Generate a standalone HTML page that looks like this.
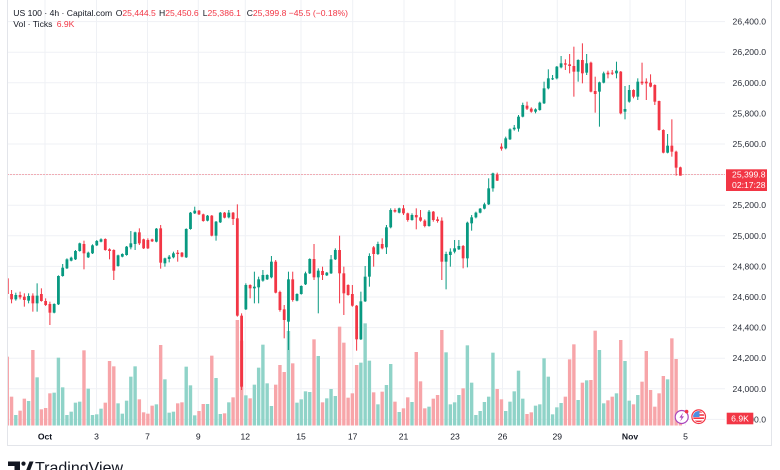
<!DOCTYPE html>
<html><head><meta charset="utf-8">
<style>
html,body{margin:0;padding:0;background:#fff;width:780px;height:470px;overflow:hidden}
svg{display:block;font-family:"Liberation Sans",Arial,sans-serif}
</style></head><body>
<svg id="s" width="780" height="470" viewBox="0 0 780 470" xmlns="http://www.w3.org/2000/svg">
<defs>
<clipPath id="cp"><rect x="7.5" y="0" width="717.5" height="425.5"/></clipPath>
<clipPath id="fc"><circle cx="698.7" cy="416.7" r="5.6"/></clipPath>
</defs>
<rect width="780" height="470" fill="#fff"/>
<g id="grid"></g>
<g clip-path="url(#cp)">
  <g id="vol"></g>
  <line x1="7.5" y1="174.5" x2="725" y2="174.5" stroke="#F23645" stroke-width="1" stroke-dasharray="1 2" opacity="0.75"/>
  <g id="cdl"></g>
</g>
<!-- frame -->
<line x1="7.5" y1="0" x2="7.5" y2="445.5" stroke="#e3e5ea" stroke-width="1"/>
<line x1="7" y1="445.5" x2="772" y2="445.5" stroke="#e3e5ea" stroke-width="1"/>
<line x1="771.5" y1="0" x2="771.5" y2="445.5" stroke="#e3e5ea" stroke-width="1"/>

<!-- legend -->
<text x="13.3" y="16.2" font-size="8.6" fill="#131722">US 100 · 4h · Capital.com</text>
<text y="16.2" font-size="8.6"><tspan x="115.7" fill="#131722">O</tspan><tspan fill="#F23645">25,444.5</tspan></text>
<text y="16.2" font-size="8.6"><tspan x="159" fill="#131722">H</tspan><tspan fill="#F23645">25,450.6</tspan></text>
<text y="16.2" font-size="8.6"><tspan x="202.7" fill="#131722">L</tspan><tspan fill="#F23645">25,386.1</tspan></text>
<text y="16.2" font-size="8.6"><tspan x="246.7" fill="#131722">C</tspan><tspan fill="#F23645">25,399.8 −45.5 (−0.18%)</tspan></text>
<text x="13.3" y="27" font-size="8.6" fill="#131722">Vol · Ticks</text>
<text x="56.7" y="27" font-size="8.6" fill="#F23645">6.9K</text>

<!-- price axis -->
<g font-size="8.6" fill="#2a2e39" text-anchor="end">
<text x="766" y="24.6">26,400.0</text>
<text x="766" y="55.2">26,200.0</text>
<text x="766" y="85.8">26,000.0</text>
<text x="766" y="116.4">25,800.0</text>
<text x="766" y="147">25,600.0</text>
<text x="766" y="208.2">25,200.0</text>
<text x="766" y="238.8">25,000.0</text>
<text x="766" y="269.4">24,800.0</text>
<text x="766" y="300">24,600.0</text>
<text x="766" y="330.6">24,400.0</text>
<text x="766" y="361.2">24,200.0</text>
<text x="766" y="391.8">24,000.0</text>
<text x="766" y="422.4">23,800.0</text>
</g>
<rect x="726" y="169.3" width="41" height="21.7" fill="#F23645"/>
<text x="765.5" y="177.3" font-size="8.6" fill="#fff" text-anchor="end">25,399.8</text>
<text x="765.5" y="187.8" font-size="8.6" fill="#fff" text-anchor="end">02:17:28</text>
<rect x="726.7" y="412.7" width="26.6" height="11.6" fill="#F23645"/>
<text x="740" y="421.6" font-size="8.6" fill="#fff" text-anchor="middle">6.9K</text>

<!-- time axis -->
<g font-size="8.6" fill="#131722" text-anchor="middle">
<text x="45" y="439.6" font-weight="bold">Oct</text>
<text x="96.5" y="439.6">3</text>
<text x="147.5" y="439.6">7</text>
<text x="198.3" y="439.6">9</text>
<text x="245.3" y="439.6">12</text>
<text x="301" y="439.6">15</text>
<text x="352.7" y="439.6">17</text>
<text x="403.5" y="439.6">21</text>
<text x="455" y="439.6">23</text>
<text x="502.5" y="439.6">26</text>
<text x="557.3" y="439.6">29</text>
<text x="630" y="439.6" font-weight="bold">Nov</text>
<text x="685.5" y="439.6">5</text>
</g>

<!-- icons -->
<circle cx="681.7" cy="417" r="6.5" fill="#fff" stroke="#ab47bc" stroke-width="1.2"/>
<path d="M683.2,412.6 L679.4,417.6 L681.6,417.6 L680.2,421.4 L684,416.4 L681.8,416.4 Z" fill="#ab47bc"/>
<circle cx="686.6" cy="411.6" r="1.8" fill="#F23645"/>
<circle cx="698.7" cy="416.7" r="6.8" fill="#fff" stroke="#F23645" stroke-width="1.2"/>
<g clip-path="url(#fc)">
  <rect x="692" y="410" width="14" height="14" fill="#fff"/>
  <rect x="692" y="411" width="14" height="1.6" fill="#F23645"/>
  <rect x="692" y="414.2" width="14" height="1.6" fill="#F23645"/>
  <rect x="692" y="417.4" width="14" height="1.6" fill="#F23645"/>
  <rect x="692" y="420.6" width="14" height="1.6" fill="#F23645"/>
  <rect x="692" y="410" width="7.5" height="7" fill="#4a90e2"/>
</g>

<!-- TradingView logo -->
<path d="M8,461.5 H20 V472 H14.5 V466 H8 Z" fill="#131722"/>
<circle cx="23.5" cy="463.6" r="2.1" fill="#131722"/>
<path d="M25.5,472 L29.5,461.5 L33.5,461.5 L29.5,472 Z" fill="#131722"/>
<text x="35" y="473.2" font-size="16" fill="#131722">TradingView</text>
</svg>
<script>
(function(){
var X0=7.3, ST=4.26;
var G='#089981', R='#F23645', GV='#8fd3c8', RV='#f7a5a9';
function cx(i){return X0+ST*i;}
// grid
var gh='';
for(var k=0;k<14;k++){var y=21.6+30.6*k;gh+='<line x1="7.5" y1="'+y.toFixed(2)+'" x2="725" y2="'+y.toFixed(2)+'" stroke="#eff1f5" stroke-width="1"/>';}
[45,96.5,147.5,198.3,245.3,301,352.7,404,455,502.5,557.3,630,685.5].forEach(function(x){gh+='<line x1="'+x+'" y1="0" x2="'+x+'" y2="425.5" stroke="#eff1f5" stroke-width="1"/>';});
document.getElementById('grid').innerHTML=gh;

var segs=[
[0,170,"r325,372,320,375 r372,388,360,400 g375,388,368,392 r375,382,365,388 r380,390,370,410 g378,392,370,400 r377,400,370,425 g377,400,340,425 r372,393,355,395 r393,405,385,408 r402,428,395,465 g402,428,400,430 g318,403,316,405 g293,318,282,320 g268,295,265,297 g263,272,260,274 g243,268,240,270 g220,243,218,245 r222,250,212,298 g248,262,245,264 g226,250,223,252 g213,226,210,228 g208,215,205,217 r207,240,205,242 r238,243,235,268 r240,302,238,330 g256,288,254,290 g252,260,250,262 g230,255,228,257 g220,232,183,238 g187,222,185,240 r187,220,175,225 r208,235,206,237 r210,235,205,237 r208,214,206,216 g176,215,174,217 r175,278,165,296 g265,280,263,290 g260,267,255,277 g250,262,245,265"],
[40,170,"r248,252,240,275 r248,260,246,262 g177,262,175,264 g128,177,126,179 g122,130,110,132 r122,133,120,135 r133,153,131,155 g137,152,135,154 r137,197,135,199 g155,197,153,212 g128,157,126,159 r128,143,126,145 g128,142,120,145 r128,147,126,165 r145,437,103,440 r437,650,430,660 g345,418,340,420 r345,355,343,385 g350,355,305,400 g328,352,320,400 g315,332,300,335 g315,328,313,330 g275,322,258,325 r275,368,270,370 r366,420,362,425 r418,450,405,505 g328,455,305,540 r328,390,305,395 g372,392,370,394 g348,372,346,374 g310,343,305,345 g267,310,265,312 r267,322,222,330 g302,322,295,430 r303,315,290,330 g308,316,306,318 g268,310,255,312 g240,268,235,270 r240,310,197,400 r310,370,290,435 r345,375,343,377"],
[81,140,"r462,497,435,500 r497,598,495,632 g484,598,455,600 g410,484,378,486 g348,410,340,440 r322,342,318,380 g312,342,305,345 r312,325,295,328 g262,322,255,342 g210,262,205,265 r210,215,205,218 g205,218,203,220 r205,220,195,225 r220,240,218,245 g225,240,220,242 r225,232,205,268 r232,242,210,245 r242,258,238,262 g215,258,210,260 r215,240,213,245 r238,243,230,248 r242,365,232,420 g342,365,335,448 g335,345,325,380 g325,335,300,340 g318,328,300,330 r318,355,315,385 g248,355,245,382 g232,250,225,272 g218,232,215,235 g206,218,204,220 g193,206,188,208 g145,193,115,195 g100,145,98,155 r103,122,98,123"],
[116,30,"r350,356,340,362 g325,355,320,358 g298,328,295,330 g293,298,285,302 g260,296,255,305 g225,260,218,262 r227,236,215,240 r236,245,232,248 g238,245,235,250 g218,240,215,242 g175,220,155,222 g145,175,118,178 g145,148,135,150 g110,145,108,148 g100,112,78,115 r100,104,88,120 r103,108,72,130 r108,125,50,200 g90,125,88,155 r90,130,40,160 g100,128,72,135 r98,185,95,187"],
[138,30,"r183,192,140,248 g157,185,155,290 g130,158,125,160 r128,133,122,145 r128,131,120,135 g122,130,95,145 r125,250,123,253 g237,245,168,268 g180,215,165,218 r180,200,178,205 g155,200,145,210 r155,160,98,165 r155,160,145,210 r158,170,133,172 r165,215,163,225 r213,300,212,302 r300,368,298,370 g347,368,312,370 r347,365,268,380 r365,413,362,437 r412,437,410,437"]
];
var cols=[], ch='';
segs.forEach(function(sg){
  var i0=sg[0], oy=sg[1];
  sg[2].trim().split(/\s+/).forEach(function(t,k){
    var c=t[0], v=t.slice(1).split(',').map(Number), i=i0+k, x=cx(i), col=(c=='g')?G:R;
    cols[i]=c;
    var y1=oy+v[0]/3, y2=oy+v[1]/3;
    if(y2-y1<1){var m=(y1+y2)/2;y1=m-0.5;y2=m+0.5;}
    var wt=oy+v[2]/3, wb=oy+v[3]/3;
    ch+='<rect x="'+(x-0.5).toFixed(2)+'" y="'+wt.toFixed(2)+'" width="1" height="'+Math.max(wb-wt,1).toFixed(2)+'" fill="'+col+'"/>';
    ch+='<rect x="'+(x-1.4).toFixed(2)+'" y="'+y1.toFixed(2)+'" width="2.8" height="'+(y2-y1).toFixed(2)+'" fill="'+col+'"/>';
  });
});
document.getElementById('cdl').innerHTML=ch;

var vsegs=[
[0,170,[560,680,735,722,686,693,540,622,718,714,670,668,563,652,735,725,698,695,541,656,735,733,716,698,573,589,700,731,692,620,589,688,727,731,707,703,525,628,728,725]],
[40,170,[700,697,590,646,736,723,702,702,557,624,732,730,697,682,450,512,676,685,644,593,524,640,708,644,585,606,483,580,698,688,664,666,508,558,697,685,657,678,470,518,683]],
[81,140,[760,675,668,550,662,757,793,755,735,672,785,816,805,772,786,636,724,805,800,776,765,570,637,793,787,765,745,616,728,825,813,786,770,638,747]],
[116,30,[1108,1143,1115,1084,1022,1106,1152,1147,1127,1123,985,1040,1153,1132,1119,1100,988,943,1110,1058,1051,1050]],
[138,30,[902,960,1120,1111,1100,1090,930,993,1112,1123,1095,1055,963,1080,1130,1090,1038,1048,925,987,1170]]
];
var BASE=425.5, vh='';
vsegs.forEach(function(sg){
  var i0=sg[0], oy=sg[1];
  sg[2].forEach(function(z,k){
    var i=i0+k, x=cx(i), top=oy+z/3, col=(cols[i]=='g')?GV:RV;
    vh+='<rect x="'+(x-1.7).toFixed(2)+'" y="'+top.toFixed(2)+'" width="3.4" height="'+(BASE-top).toFixed(2)+'" fill="'+col+'"/>';
  });
});
document.getElementById('vol').innerHTML=vh;
})();
</script>
</body></html>
